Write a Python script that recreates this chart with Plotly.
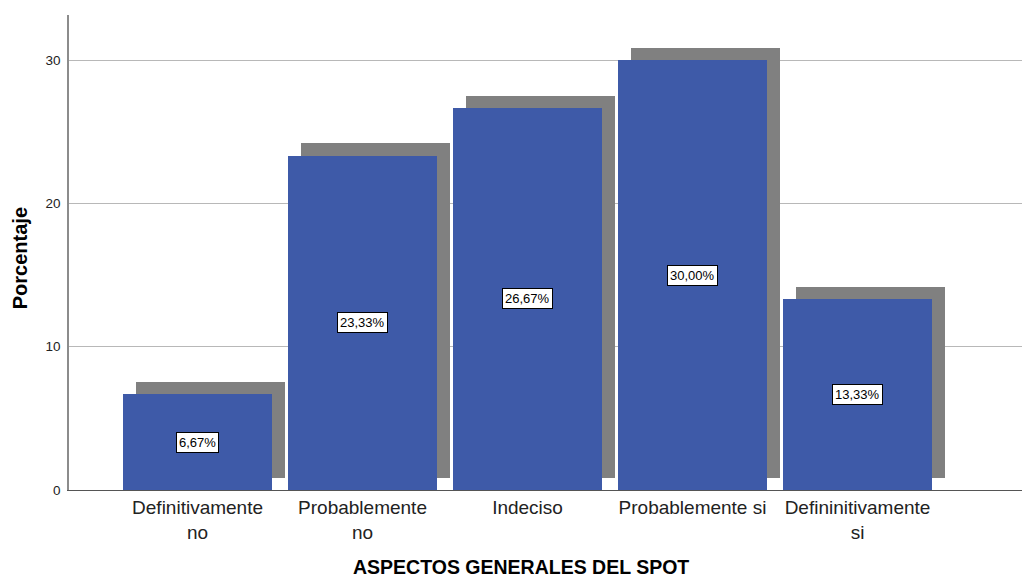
import plotly.graph_objects as go

categories = ["Definitivamente<br>no", "Probablemente<br>no", "Indeciso",
              "Probablemente si", "Defininitivamente<br>si"]
percentages = [6.67, 23.33, 26.67, 30.00, 13.33]
y_ticks = [0, 10, 20, 30]

BLUE = "#3E5AA8"
SHADOW = "#808080"
FONT = "Liberation Sans, Arial, sans-serif"

bar_width = 0.903
dx = 0.076      # shadow horizontal offset (category units)
dy = 0.86       # shadow vertical offset (value units)

idx = list(range(len(categories)))

fig = go.Figure()
# shadow bars (drawn first, behind)
fig.add_trace(go.Bar(
    x=[i + dx for i in idx], y=percentages, base=[dy] * len(idx),
    width=bar_width, marker=dict(color=SHADOW, line=dict(width=0)),
    hoverinfo="skip", showlegend=False))
# main bars
fig.add_trace(go.Bar(
    x=idx, y=percentages, width=bar_width,
    marker=dict(color=BLUE, line=dict(width=0)),
    showlegend=False))

annotations = []
for i, v in zip(idx, percentages):
    annotations.append(dict(
        x=i, y=v / 2, xref="x", yref="y", showarrow=False,
        text=f"{v:.2f}".replace(".", ",") + "%",
        font=dict(family=FONT, size=13, color="black"),
        bgcolor="white", bordercolor="black", borderwidth=1, borderpad=2))

annotations.append(dict(
    x=0.474, y=-0.163, xref="paper", yref="paper", showarrow=False,
    text="<b>ASPECTOS GENERALES DEL SPOT</b>",
    font=dict(family=FONT, size=19.5, color="black"),
    xanchor="center", yanchor="middle"))
annotations.append(dict(
    x=-0.0514, y=0.488, xref="paper", yref="paper", showarrow=False,
    text="<b>Porcentaje</b>", textangle=-90,
    font=dict(family=FONT, size=20, color="black"),
    xanchor="center", yanchor="middle"))

fig.update_layout(
    width=1022, height=578,
    margin=dict(l=69, r=0, t=15, b=88),
    paper_bgcolor="white", plot_bgcolor="white",
    barmode="overlay", bargap=0,
    showlegend=False,
    annotations=annotations,
    xaxis=dict(
        range=[-0.779, 4.997],
        tickmode="array", tickvals=idx, ticktext=categories,
        tickfont=dict(family=FONT, size=19, color="#222222"),
        showline=True, linecolor="#555555", linewidth=1,
        showgrid=False, zeroline=False, ticks=""),
    yaxis=dict(
        range=[0, 33.15],
        tickmode="array", tickvals=y_ticks,
        tickfont=dict(family=FONT, size=13.5, color="#222222"),
        showline=True, linecolor="#8c8c8c", linewidth=1.5,
        showgrid=True, gridcolor="#b8b8b8", gridwidth=1,
        zeroline=False, ticks="", ticklabelstandoff=4),
)

fig.write_html("out.html", config={"displayModeBar": False},
               post_script="document.body.style.margin='0';document.body.style.overflow='hidden';")
